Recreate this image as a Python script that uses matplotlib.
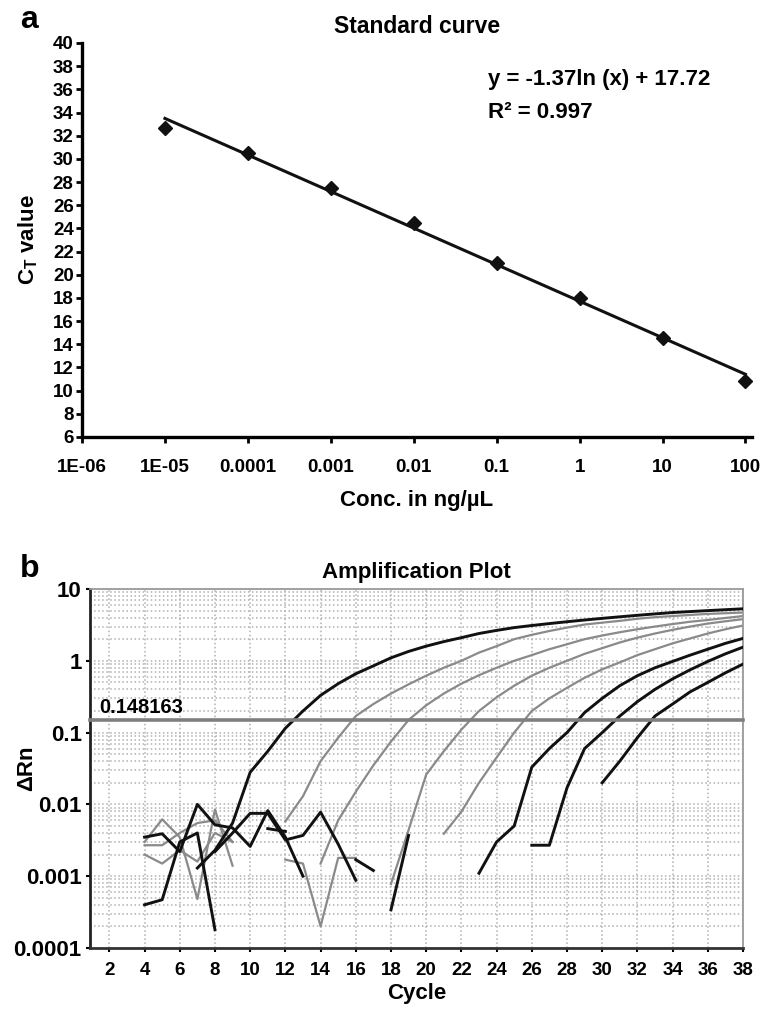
import numpy as np
import matplotlib
matplotlib.use("Agg")
import matplotlib.pyplot as plt
from matplotlib.ticker import LogLocator, NullFormatter

plt.rcParams['font.family'] = ['Liberation Sans', 'DejaVu Sans']
plt.rcParams['font.weight'] = 'bold'
plt.rcParams['mathtext.fontset'] = 'custom'
plt.rcParams['mathtext.rm'] = 'Liberation Sans:bold'

# ---- panel a: standard curve ----
conc = [1e-5, 1e-4, 1e-3, 1e-2, 1e-1, 1, 10, 100]
ct_values = [32.7, 30.5, 27.5, 24.5, 21.0, 18.0, 14.5, 10.8]
fit_slope = -1.37
fit_intercept = 17.72
conc_ticks = [1e-6, 1e-5, 1e-4, 1e-3, 1e-2, 1e-1, 1, 10, 100]
conc_labels = ['1E-06', '1E-05', '0.0001', '0.001', '0.01', '0.1', '1', '10', '100']
ct_ticks = list(range(6, 41, 2))

# ---- panel b: amplification plot (cycle start, delta Rn per cycle) ----
threshold = 0.148163
c1_start, c1 = 7, [0.0013, 0.0023, 0.0055, 0.028, 0.055, 0.115, 0.2, 0.33, 0.48, 0.66,
                   0.85, 1.1, 1.35, 1.6, 1.85, 2.1, 2.4, 2.65, 2.9, 3.1, 3.3, 3.5, 3.7,
                   3.9, 4.1, 4.3, 4.5, 4.7, 4.85, 5.0, 5.15, 5.3]
c2_start, c2 = 12, [0.0058, 0.013, 0.04, 0.085, 0.17, 0.25, 0.35, 0.47, 0.62, 0.8, 1.0,
                    1.3, 1.6, 2.0, 2.3, 2.6, 2.9, 3.2, 3.4, 3.6, 3.85, 4.05, 4.2, 4.35,
                    4.5, 4.6, 4.7]
c3_start, c3 = 14, [0.0015, 0.006, 0.015, 0.035, 0.075, 0.15, 0.24, 0.35, 0.48, 0.63,
                    0.8, 1.0, 1.2, 1.45, 1.7, 2.0, 2.25, 2.5, 2.75, 3.0, 3.25, 3.5, 3.7,
                    3.95, 4.2]
c4_start, c4 = 18, [0.00078, 0.0044, 0.026, 0.055, 0.11, 0.2, 0.31, 0.45, 0.62, 0.8,
                    1.0, 1.25, 1.5, 1.8, 2.1, 2.4, 2.7, 3.0, 3.3, 3.55, 3.8]
c5_start, c5 = 21, [0.0039, 0.0079, 0.02, 0.045, 0.1, 0.2, 0.3, 0.42, 0.58, 0.76, 0.95,
                    1.2, 1.45, 1.75, 2.05, 2.4, 2.75, 3.1]
c6_start, c6 = 23, [0.0011, 0.003, 0.005, 0.033, 0.06, 0.1, 0.19, 0.3, 0.45, 0.62, 0.8,
                    0.98, 1.2, 1.45, 1.75, 2.05]
c7_start, c7 = 26, [0.0027, 0.0027, 0.017, 0.06, 0.1, 0.17, 0.27, 0.4, 0.56, 0.75, 0.98,
                    1.25, 1.55]
c8_start, c8 = 30, [0.02, 0.04, 0.085, 0.17, 0.25, 0.37, 0.5, 0.68, 0.9]

# background noise pieces
n1_start, n1 = 4, [0.0004, 0.00047, 0.003, 0.004, 0.00018]
n2_start, n2 = 4, [0.0035, 0.0039, 0.0022, 0.010, 0.0052, 0.0047, 0.0026, 0.0082, 0.0035, 0.001]
n3_start, n3 = 8, [0.0022, 0.0040, 0.0075, 0.0075, 0.0032, 0.0037, 0.0078, 0.0028, 0.00088]
n4_start, n4 = 11, [0.0046, 0.0042]
n5_start, n5 = 16, [0.0017, 0.0012]
n6_start, n6 = 18, [0.00034, 0.0037]
g1_start, g1 = 4, [0.0020, 0.0015, 0.0023, 0.0016, 0.0040, 0.0030]
g2_start, g2 = 4, [0.0030, 0.0062, 0.0035, 0.00048, 0.0085, 0.0014]
g3_start, g3 = 4, [0.0027, 0.0027, 0.0040, 0.0055, 0.0060, 0.0030]
g4_start, g4 = 12, [0.0017, 0.0015, 0.0002, 0.0018, 0.0018]

cycle_ticks = list(range(2, 39, 2))
rn_ticks = [1e-4, 1e-3, 1e-2, 1e-1, 1, 10]
rn_labels = ['0.0001', '0.001', '0.01', '0.1', '1', '10']

black = '#111111'
gray = '#8a8a8a'

fig = plt.figure(figsize=(7.75, 10.1), dpi=100)
W, H = 775.0, 1010.0

# ================= panel a =================
ax1 = fig.add_axes([82 / W, 1 - 437 / H, (752 - 82) / W, (437 - 43) / H])
ax1.set_xscale('log')
ax1.plot(conc, ct_values, linestyle='none', marker='D', markersize=7,
         color=black, zorder=3)
fit_x = np.array([conc[0], conc[-1]])
ax1.plot(fit_x, fit_slope * np.log(fit_x) + fit_intercept, color=black, lw=2.2)
ax1.set_xlim(1e-6, 120)
ax1.set_ylim(6, 40)
ax1.set_xticks(conc_ticks)
ax1.set_xticklabels(conc_labels)
ax1.xaxis.set_minor_locator(plt.NullLocator())
ax1.set_yticks(ct_ticks)
for s in ['top', 'right']:
    ax1.spines[s].set_visible(False)
for s in ['left', 'bottom']:
    ax1.spines[s].set_linewidth(2.4)
ax1.tick_params(direction='out', length=4, width=2, labelsize=13.5)
ax1.tick_params(axis='x', pad=12)
ax1.tick_params(axis='y', pad=2)
ax1.set_title('Standard curve', fontsize=16.5, fontweight='bold', pad=7)
ax1.set_xlabel('Conc. in ng/µL', fontsize=16, fontweight='bold', labelpad=10)
ax1.set_ylabel(r'$\mathrm{C_T}$ value', fontsize=16, fontweight='bold')
ax1.yaxis.set_label_coords(-0.063, 0.5)
fig.text(488 / W, 1 - 85 / H, 'y = -1.37ln (x) + 17.72', fontsize=16,
         fontweight='bold', va='baseline')
fig.text(488 / W, 1 - 118 / H, 'R² = 0.997', fontsize=16,
         fontweight='bold', va='baseline')
fig.text(20 / W, 1 - 28 / H, 'a', fontsize=23, fontweight='bold', va='baseline')

# ================= panel b =================
ax2 = fig.add_axes([90 / W, 1 - 948 / H, (743 - 90) / W, (948 - 589) / H])
ax2.set_yscale('log')
ax2.set_xlim(0.9, 38)
ax2.set_ylim(1e-4, 10)

ax2.yaxis.set_minor_locator(LogLocator(base=10, subs=np.arange(2, 10)))
ax2.yaxis.set_minor_formatter(NullFormatter())
ax2.grid(which='both', axis='y', linestyle=':', color='#b0b0b0', lw=1.1)
ax2.grid(which='major', axis='x', linestyle=':', color='#b0b0b0', lw=1.1)

gray_pieces = [(g1_start, g1), (g2_start, g2), (g3_start, g3), (g4_start, g4),
               (c2_start, c2), (c3_start, c3), (c4_start, c4), (c5_start, c5)]
black_pieces = [(n1_start, n1), (n2_start, n2), (n3_start, n3), (n4_start, n4),
                (n5_start, n5), (n6_start, n6), (c1_start, c1), (c6_start, c6),
                (c7_start, c7), (c8_start, c8)]
for start, vals in gray_pieces:
    ax2.plot(np.arange(start, start + len(vals)), vals, color=gray, lw=1.6, zorder=2)
for start, vals in black_pieces:
    ax2.plot(np.arange(start, start + len(vals)), vals, color=black, lw=2.1, zorder=3)

ax2.axhline(threshold, color='#7f7f7f', lw=2.6, zorder=4, clip_on=False)
ax2.text(1.45, threshold * 1.25, '0.148163', fontsize=14.5, fontweight='bold',
         va='baseline', ha='left')

ax2.set_xticks(cycle_ticks)
ax2.set_yticks(rn_ticks)
ax2.set_yticklabels(rn_labels)
ax2.tick_params(which='minor', length=0)
ax2.tick_params(axis='x', direction='out', length=3, width=1.5, labelsize=13.5, pad=7)
ax2.tick_params(axis='y', direction='out', length=3, width=1.5, labelsize=16, pad=3)
ax2.spines['left'].set_linewidth(2.0)
ax2.spines['left'].set_color('#222222')
ax2.spines['bottom'].set_linewidth(2.0)
ax2.spines['bottom'].set_color('#333333')
for s in ['top', 'right']:
    ax2.spines[s].set_linewidth(1.3)
    ax2.spines[s].set_color('#9a9a9a')
ax2.set_title('Amplification Plot', fontsize=16, fontweight='bold', pad=8)
ax2.set_xlabel('Cycle', fontsize=16, fontweight='bold', labelpad=3)
ax2.set_ylabel('ΔRn', fontsize=16, fontweight='bold')
ax2.yaxis.set_label_coords(-0.081, 0.5)
fig.text(20 / W, 1 - 577 / H, 'b', fontsize=23, fontweight='bold', va='baseline')

fig.savefig('out.png', dpi=100)
